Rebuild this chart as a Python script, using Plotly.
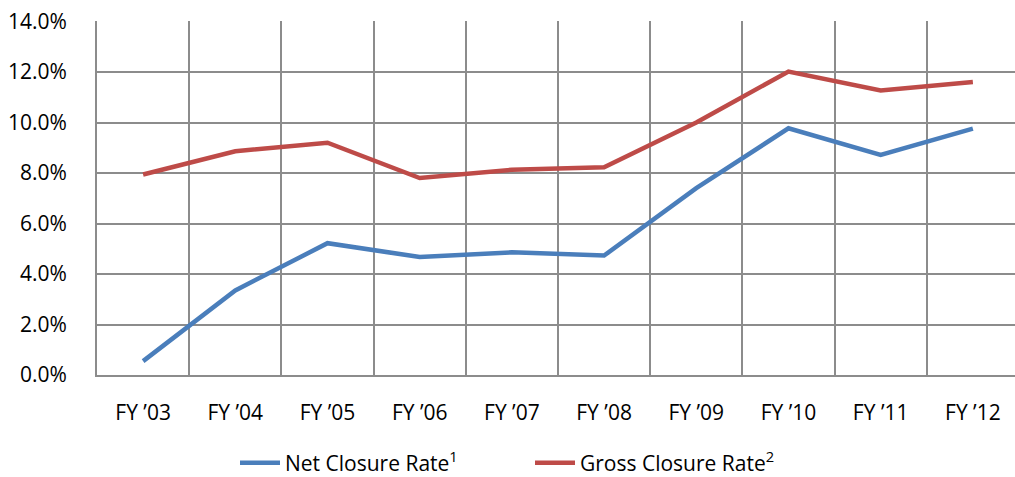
import plotly.graph_objects as go

categories = ["FY ’03", "FY ’04", "FY ’05", "FY ’06", "FY ’07", "FY ’08", "FY ’09", "FY ’10", "FY ’11", "FY ’12"]
net_closure = [0.55, 3.35, 5.22, 4.67, 4.86, 4.73, 7.4, 9.77, 8.72, 9.76]
gross_closure = [7.94, 8.86, 9.2, 7.8, 8.13, 8.23, 10.0, 12.02, 11.27, 11.6]
y_ticks = [0, 2, 4, 6, 8, 10, 12, 14]
y_tick_labels = ["0.0%", "2.0%", "4.0%", "6.0%", "8.0%", "10.0%", "12.0%", "14.0%"]

FONT = "Open Sans"
GRID = "#8c8c8c"

fig = go.Figure()
fig.add_trace(go.Scatter(x=categories, y=net_closure, mode="lines",
                         name="Net Closure Rate<sup>1</sup>",
                         line=dict(color="#4a7ebb", width=4.5)))
fig.add_trace(go.Scatter(x=categories, y=gross_closure, mode="lines",
                         name="Gross Closure Rate<sup>2</sup>",
                         line=dict(color="#be4b48", width=4.5)))

fig.update_layout(
    width=1015, height=477,
    margin=dict(l=97, r=0, t=21, b=102, pad=0),
    paper_bgcolor="white", plot_bgcolor="white",
    font=dict(family=FONT, size=21, color="black"),
    showlegend=True,
    legend=dict(orientation="h", xref="container", yref="container",
                x=235 / 1015, xanchor="left", y=14 / 477, yanchor="middle",
                font=dict(size=21), itemwidth=40, entrywidth=240,
                bgcolor="rgba(0,0,0,0)"),
    xaxis=dict(type="category", range=[-0.5, 9.457], tickson="boundaries",
               showgrid=True, gridcolor=GRID, gridwidth=2,
               showline=True, linecolor=GRID, linewidth=2, automargin=False,
               ticks="", ticklabelstandoff=18, fixedrange=True),
    yaxis=dict(range=[0, 14.02], tickvals=y_ticks, ticktext=y_tick_labels,
               showgrid=True, gridcolor=GRID, gridwidth=2,
               showline=True, linecolor=GRID, linewidth=2, zeroline=False,
               automargin=False, ticks="", ticklabelstandoff=24, fixedrange=True),
)

fig.write_html(
    "out.html",
    config={"displayModeBar": False, "staticPlot": True},
    post_script="document.body.style.margin='0';document.body.style.overflow='hidden';",
)
